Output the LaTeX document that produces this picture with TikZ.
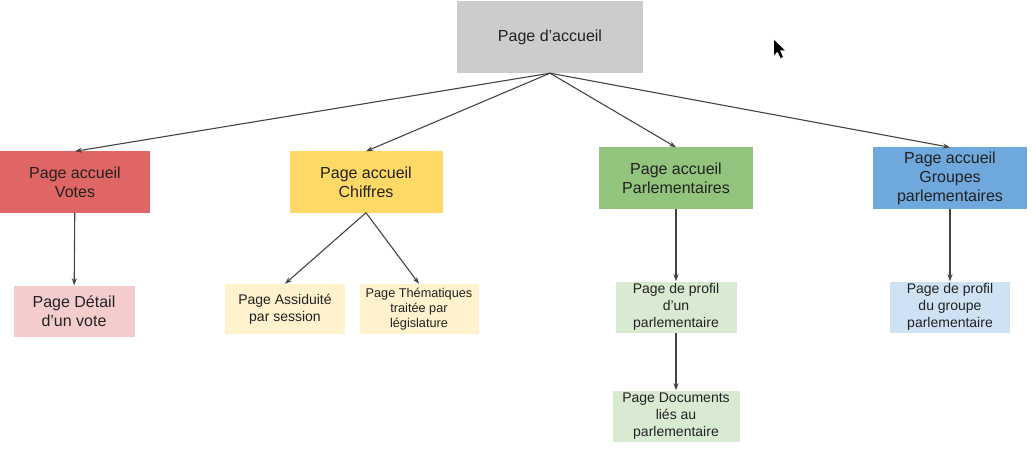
\documentclass[tikz,border=0pt]{standalone}
\usepackage{fontspec}
\setmainfont{Liberation Sans}
\usepackage{tikz}
\usetikzlibrary{positioning,arrows.meta}
\usepackage{xcolor}
\definecolor{gris}{HTML}{CCCCCC}
\definecolor{rouge}{HTML}{E06666}
\definecolor{jaune}{HTML}{FFD966}
\definecolor{vert}{HTML}{93C47D}
\definecolor{bleu}{HTML}{6FA8DC}
\definecolor{rougec}{HTML}{F4CCCC}
\definecolor{jaunec}{HTML}{FFF2CC}
\definecolor{vertc}{HTML}{D9EAD3}
\definecolor{bleuc}{HTML}{CFE2F3}
\definecolor{trait}{HTML}{444444}
\definecolor{texte}{HTML}{222222}

\begin{document}
\begin{tikzpicture}[
  x=1pt, y=-1pt,
  page/.style={inner sep=0pt, align=center, text=texte,
               font=\fontsize{16}{19}\selectfont},
  sec/.style={page, minimum width=153pt, minimum height=61pt},
  sub/.style={page, minimum width=121pt, minimum height=51pt,
              font=\fontsize{14}{16.7}\selectfont},
  lien/.style={draw=trait, line width=1.1pt,
               -{Stealth[length=7pt, width=5pt]}}
]
\useasboundingbox (0,0) rectangle (1032,465);

% ---- racine ------------------------------------------------------------
\node[page, fill=gris, minimum width=186pt, minimum height=72pt]
  (accueil) at (550,37) {Page d'accueil};

% ---- pages d'accueil des sections --------------------------------------
\node[sec, fill=rouge, minimum width=150pt] (votes) at (75,182)
  {Page accueil\\Votes};
\node[sec, fill=jaune] (chiffres) at (366,182)
  {Page accueil\\Chiffres};
\node[sec, fill=vert, minimum width=154pt] (parl) at (676,178)
  {Page accueil\\Parlementaires};
\node[sec, fill=bleu, minimum width=154pt] (groupes) at (950,178)
  {Page accueil\\Groupes\\parlementaires};

% ---- sous-pages --------------------------------------------------------
\node[sub, fill=rougec, font=\fontsize{16}{19}\selectfont] (detail) at (74,311)
  {Page Détail\\d'un vote};
\node[sub, fill=jaunec, minimum width=120pt, minimum height=50pt] (assid) at (285,309)
  {Page Assiduité\\par session};
\node[sub, fill=jaunec, minimum width=119pt, minimum height=50pt,
      font=\fontsize{12.7}{15}\selectfont] (themes) at (419,309)
  {Page Thématiques\\traitée par\\législature};
\node[sub, fill=vertc] (profil) at (676,307)
  {Page de profil\\d'un\\parlementaire};
\node[sub, fill=vertc, minimum width=127pt] (docs) at (676,416)
  {Page Documents\\liés au\\parlementaire};
\node[sub, fill=bleuc, minimum width=120pt] (profgr) at (950,307)
  {Page de profil\\du groupe\\parlementaire};

% ---- liens -------------------------------------------------------------
\foreach \s in {votes,chiffres,parl,groupes}
  \draw[lien] (accueil.south) -- (\s.north);
\draw[lien] (votes) -- (detail);
\draw[lien] (chiffres.south) -- (assid.north);
\draw[lien] (chiffres.south) -- (themes.north);
\draw[lien] (parl) -- (profil);
\draw[lien] (profil) -- (docs);
\draw[lien] (groupes) -- (profgr);

% ---- curseur -----------------------------------------------------------
\fill[black] (774,40) -- (774,55) -- (777.5,51.5) -- (780.5,58) -- (783,57)
  -- (780,50.5) -- (785,50.5) -- cycle;
\end{tikzpicture}
\end{document}
